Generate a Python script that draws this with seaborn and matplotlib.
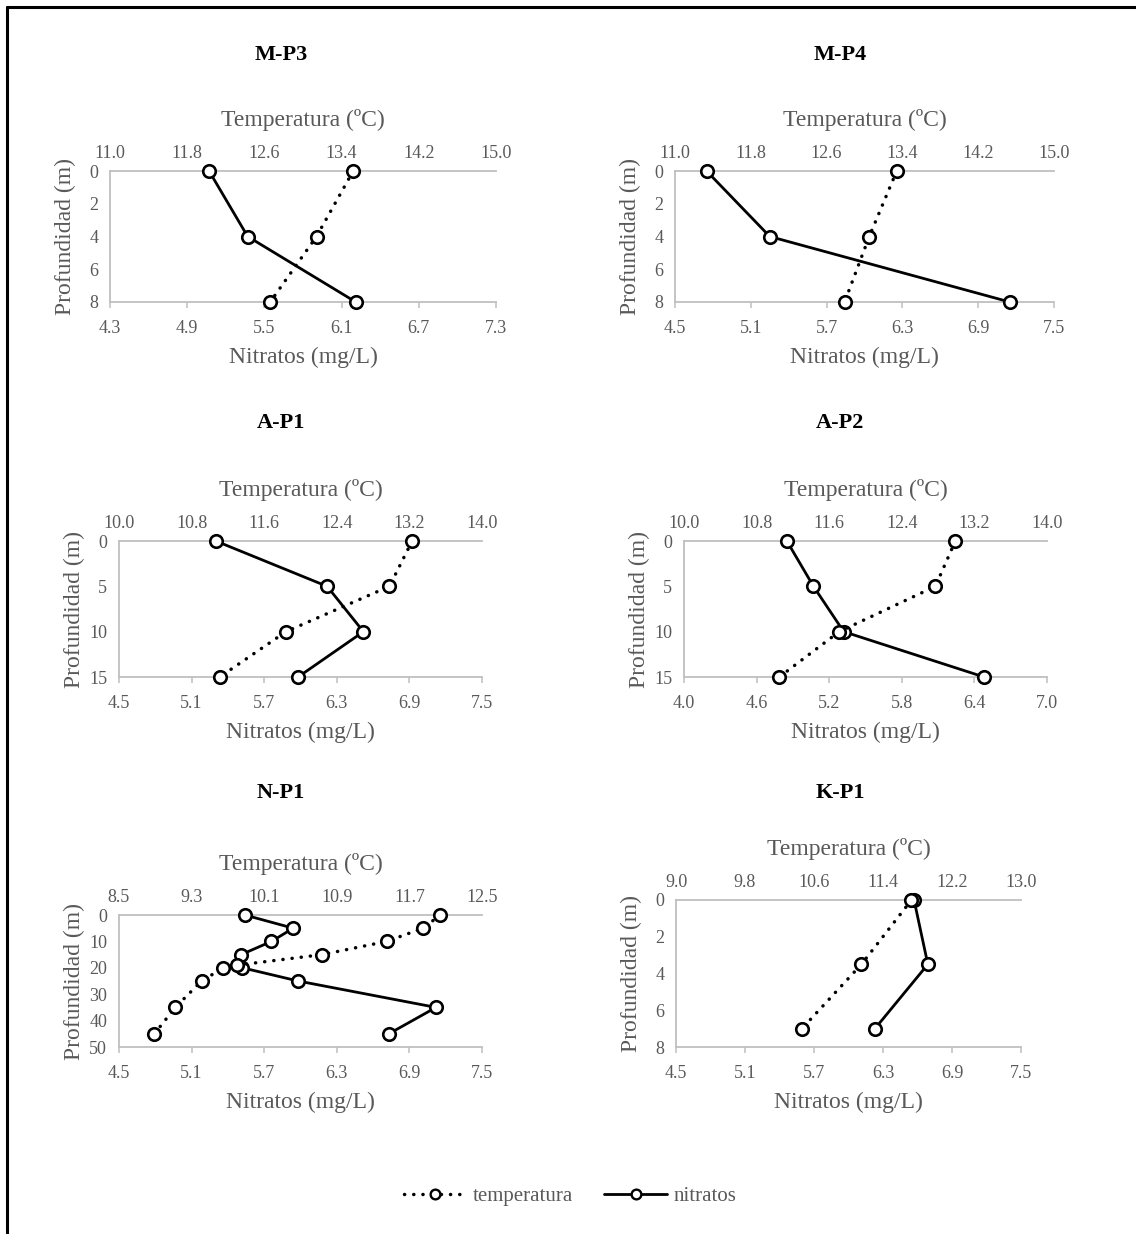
import numpy as np
import pandas as pd
import matplotlib
matplotlib.use("Agg")
import matplotlib.pyplot as plt
from matplotlib.lines import Line2D
import seaborn as sns

# ---- profile data (depth in m, nitrates in mg/L, temperature in ºC) ----
stations = ["M-P3", "M-P4", "A-P1", "A-P2", "N-P1", "K-P1"]

mp3_depth = [0, 4, 8]
mp3_nitr = [5.07, 5.37, 6.21]
mp3_temp = [13.52, 13.14, 12.66]

mp4_depth = [0, 4, 8]
mp4_nitr = [4.75, 5.25, 7.15]
mp4_temp = [13.34, 13.05, 12.79]

ap1_depth = [0, 5, 10, 15]
ap1_nitr = [5.30, 6.22, 6.52, 5.98]
ap1_temp = [13.23, 12.98, 11.84, 11.11]

ap2_depth = [0, 5, 10, 15]
ap2_nitr = [4.85, 5.07, 5.32, 6.48]
ap2_temp = [12.99, 12.77, 11.71, 11.05]

np1_depth_nitr = [0, 5, 10, 15, 20, 25, 35, 45]
np1_nitr = [5.54, 5.94, 5.76, 5.51, 5.52, 5.98, 7.12, 6.73]
np1_depth_temp = [0, 5, 10, 15, 19, 20, 25, 35, 45]
np1_temp = [12.04, 11.85, 11.45, 10.74, 9.80, 9.65, 9.41, 9.12, 8.89]

kp1_depth = [0, 3.5, 7]
kp1_nitr = [6.57, 6.69, 6.23]
kp1_temp = [11.73, 11.15, 10.46]

# axis ranges: (nitrate min, max), (temperature min, max), (depth max, step)
nitr_range = [(4.3, 7.3), (4.5, 7.5), (4.5, 7.5), (4.0, 7.0), (4.5, 7.5), (4.5, 7.5)]
temp_range = [(11.0, 15.0), (11.0, 15.0), (10.0, 14.0), (10.0, 14.0), (8.5, 12.5), (9.0, 13.0)]
depth_range = [(8, 2), (8, 2), (15, 5), (15, 5), (50, 10), (8, 2)]

profiles = [
    (mp3_depth, mp3_nitr, mp3_depth, mp3_temp),
    (mp4_depth, mp4_nitr, mp4_depth, mp4_temp),
    (ap1_depth, ap1_nitr, ap1_depth, ap1_temp),
    (ap2_depth, ap2_nitr, ap2_depth, ap2_temp),
    (np1_depth_nitr, np1_nitr, np1_depth_temp, np1_temp),
    (kp1_depth, kp1_nitr, kp1_depth, kp1_temp),
]

# ---- layout (pixels) ----
W, H = 1136, 1234
boxes = [  # left, top, right, bottom
    (110, 171, 496, 302),
    (675, 171, 1054, 302),
    (119, 541, 482, 677),
    (684, 541, 1047, 677),
    (119, 915, 482, 1047),
    (676, 900, 1021, 1047),
]
title_pos = [(281, 55), (840, 55), (281, 423), (840, 423), (281, 793), (840, 793)]

sns.set_style("white")
plt.rcParams["font.family"] = ["Liberation Serif", "DejaVu Serif"]

GREY_TXT = "#595959"
GREY_AX = "#BFBFBF"

fig = plt.figure(figsize=(W / 100, H / 100), dpi=100)
fig.patch.set_facecolor("white")

line_kw = dict(color="black", marker="o", markersize=9,
               markerfacecolor="white", markeredgecolor="black",
               markeredgewidth=1.9, estimator=None, sort=False, clip_on=False)
dot_style = (0, (0.05, 2.6))

for i, name in enumerate(stations):
    l, t, r, b = boxes[i]
    ax = fig.add_axes([l / W, 1 - b / H, (r - l) / W, (b - t) / H])
    d_n, nitr, d_t, temp = profiles[i]
    dmax, dstep = depth_range[i]
    wpx, hpx = r - l, b - t

    # nitrates on the bottom axis
    df_n = pd.DataFrame({"nitratos": nitr, "prof": d_n})
    sns.lineplot(data=df_n, x="nitratos", y="prof", ax=ax, linestyle="-",
                 linewidth=2.0, orient="y", zorder=3, **line_kw)
    nmin, nmax = nitr_range[i]
    ax.set_xlim(nmin, nmax)
    ax.set_xticks(np.linspace(nmin, nmax, 6))
    ax.set_xticklabels([f"{v:.1f}" for v in np.linspace(nmin, nmax, 6)])
    ax.set_ylim(dmax, 0)
    ax.set_yticks(np.arange(0, dmax + 0.01, dstep))
    ax.set_yticklabels([f"{v:g}" for v in np.arange(0, dmax + 0.01, dstep)])

    # temperature on the top axis
    ax2 = ax.twiny()
    df_t = pd.DataFrame({"temperatura": temp, "prof": d_t})
    sns.lineplot(data=df_t, x="temperatura", y="prof", ax=ax2,
                 linestyle=dot_style, dash_capstyle="round", linewidth=2.5,
                 orient="y", zorder=3, **line_kw)
    tmin, tmax = temp_range[i]
    ax2.set_xlim(tmin, tmax)
    ax2.set_xticks(np.linspace(tmin, tmax, 6))
    ax2.set_xticklabels([f"{v:.1f}" for v in np.linspace(tmin, tmax, 6)])
    ax2.set_ylim(dmax, 0)

    for a in (ax, ax2):
        for s in a.spines.values():
            s.set_visible(False)
        a.set_facecolor("none")
        a.grid(False)
    for s in ("left", "bottom", "top"):
        ax.spines[s].set_visible(True)
        ax.spines[s].set_color(GREY_AX)
        ax.spines[s].set_linewidth(1.3)

    ax.tick_params(axis="x", bottom=True, top=False, direction="out",
                   length=4, width=1.1, color=GREY_AX, labelsize=13,
                   labelcolor=GREY_TXT, pad=9)
    ax.tick_params(axis="y", left=False, labelsize=13, labelcolor=GREY_TXT, pad=5)
    ax2.tick_params(axis="x", top=False, bottom=False, labeltop=True,
                    labelbottom=False, labelsize=13, labelcolor=GREY_TXT, pad=3)

    ax.set_xlabel("Nitratos (mg/L)", fontsize=17, color=GREY_TXT, va="center")
    ax.xaxis.set_label_coords(0.5, -55 / hpx)
    ax.set_ylabel("Profundidad (m)", fontsize=17, color=GREY_TXT, va="center")
    ax.yaxis.set_label_coords(-45 / wpx, 0.5)
    ax2.set_xlabel("Temperatura (ºC)", fontsize=17, color=GREY_TXT, va="center")
    ax2.xaxis.set_label_coords(0.5, 1 + 51 / hpx)

    tx, ty = title_pos[i]
    fig.text(tx / W, 1 - ty / H, name, ha="center", va="center",
             fontsize=16, fontweight="bold", color="black")

# shared legend
h_temp = Line2D([], [], color="black", linewidth=2.5, linestyle=dot_style,
                dash_capstyle="round", marker="o", markersize=7,
                markerfacecolor="white", markeredgecolor="black", markeredgewidth=1.7)
h_nitr = Line2D([], [], color="black", linewidth=2.0, linestyle="-",
                marker="o", markersize=7, markerfacecolor="white",
                markeredgecolor="black", markeredgewidth=1.7)
leg = fig.legend([h_temp, h_nitr], ["temperatura", "nitratos"], ncol=2,
                 loc="center", bbox_to_anchor=(570 / W, 1 - 1196 / H),
                 frameon=False, fontsize=15, handlelength=3.0,
                 handletextpad=0.3, columnspacing=1.5)
for txt in leg.get_texts():
    txt.set_color(GREY_TXT)

# outer frame (left and top edges)
fig.add_artist(Line2D([7 / W, 7 / W], [0, 1 - 7 / H], transform=fig.transFigure,
                      color="black", linewidth=2.2))
fig.add_artist(Line2D([7 / W, 1], [1 - 7 / H, 1 - 7 / H], transform=fig.transFigure,
                      color="black", linewidth=2.2))

fig.savefig("out.png", dpi=100, facecolor="white")
